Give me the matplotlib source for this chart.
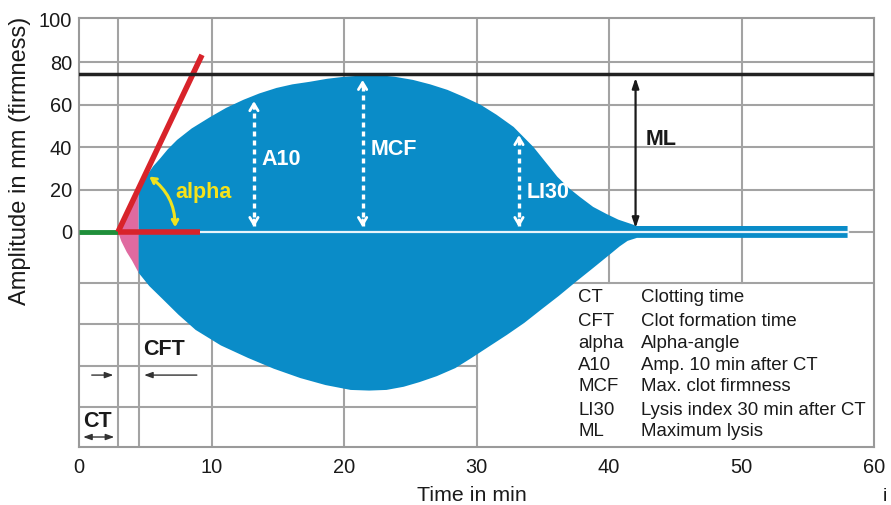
import matplotlib
matplotlib.use("Agg")
import matplotlib.pyplot as plt
import numpy as np

plt.rcParams['font.family'] = ['Liberation Sans', 'DejaVu Sans']

# upper edge of the trace (time in min, amplitude in mm)
t_up = [2.94, 3.3, 3.7, 4.1, 4.5, 5.1, 5.6, 6.1, 6.7, 7.4, 8.5, 9.9, 11.1, 12.4, 13.6,
        14.9, 16.1, 17.4, 18.7, 19.9, 21.2, 22.5, 23.8, 25.2, 26.5, 27.8, 29.0, 30.3,
        31.5, 32.8, 34.3, 35.2, 36.1, 37.0, 37.8, 38.8, 39.8, 40.7, 41.6, 42.1, 58.0]
a_up = [0, 4.5, 9.5, 14.5, 19.5, 26.5, 31, 34.5, 39, 43.4, 48.8, 54.2, 58.5, 62.3, 65.3,
        67.9, 69.6, 70.8, 72.2, 73.1, 73.7, 74.0, 73.2, 71.7, 69.6, 67, 63.8, 60,
        55.3, 49.5, 40, 33, 26, 20.5, 16.5, 11.8, 8.5, 5.8, 3.9, 2.8, 2.8]
# lower edge
t_lo = [2.94, 3.2, 3.6, 4.0, 4.5, 5.3, 6.3, 7.5, 8.8, 10.7, 12.75, 14.7, 16.7, 18.6,
        20.5, 21.9, 23.2, 24.5, 25.7, 27.0, 28.4, 29.6, 30.9, 32.3, 33.6, 34.9, 36.2,
        37.5, 38.8, 40.1, 40.8, 41.4, 42.1, 58.0]
a_lo = [0, -4.5, -9.5, -13.5, -19.3, -25.5, -31.6, -39, -46.2, -53.5, -59.4, -64.5,
        -68.9, -72.2, -74.5, -74.8, -74.5, -73, -70.8, -68, -64.2, -59.5, -54.2, -48.5,
        -42.9, -36.5, -30.2, -23.5, -17, -10.4, -6.8, -4.2, -2.8, -2.8]

CT = 2.94
CFT_end = 4.5
ML_level = 74.5
tangent_end = (9.28, 83.5)
red_base_end = 9.13
trace_end = 58.0

# white measurement arrows: (time, top amplitude, label, label height)
meas = [(13.2, 63.0, 'A10', 34), (21.4, 73.0, 'MCF', 38.7), (33.2, 47.0, 'LI30', 18.4)]
ml_time = 42.0

legend_abbr = ['CT', 'CFT', 'alpha', 'A10', 'MCF', 'LI30', 'ML']
legend_desc = ['Clotting time', 'Clot formation time', 'Alpha-angle', 'Amp. 10 min after CT',
               'Max. clot firmness', 'Lysis index 30 min after CT', 'Maximum lysis']
legend_rows = [-31.1, -42.0, -52.8, -63.2, -73.1, -84.0, -94.3]

xticks = [0, 10, 20, 30, 40, 50, 60]
yticks = [0, 20, 40, 60, 80, 100]

blue = '#0a8cc8'
pink = '#e06aa0'
red = '#d8232a'
grid_c = '#a3a3a3'
ink = '#1a1a1a'

fig = plt.figure(figsize=(8.91, 5.05), dpi=100)
ax = fig.add_axes([0.0887, 0.1149, 0.8923, 0.8495])
ax.set_xlim(0, 60)
ax.set_ylim(-101.4, 100.9)

# grid
for y in [0, 20, 40, 60, 80]:
    ax.plot([0, 60], [y, y], color=grid_c, lw=1.5, zorder=1)
ax.plot([0, 60], [-24, -24], color=grid_c, lw=1.5, zorder=1)
for y in [-43.4, -63.2, -82.5]:
    ax.plot([0, 30], [y, y], color=grid_c, lw=1.5, zorder=1)
for x in [10, 20, 30, CT]:
    ax.plot([x, x], [-101.4, 100.9], color=grid_c, lw=1.5, zorder=1)
for x in [40, 50]:
    ax.plot([x, x], [-24, 100.9], color=grid_c, lw=1.5, zorder=1)
ax.plot([CFT_end, CFT_end], [-101.4, 0], color=grid_c, lw=1.5, zorder=1)

# trace
t_up = np.array(t_up); a_up = np.array(a_up)
t_lo = np.array(t_lo); a_lo = np.array(a_lo)
mu = t_up <= CFT_end
ml = t_lo <= CFT_end
ax.fill(np.r_[t_up[mu], t_lo[ml][::-1]], np.r_[a_up[mu], a_lo[ml][::-1]],
        color=pink, lw=0, zorder=2)
mu = t_up >= CFT_end
ml = t_lo >= CFT_end
ax.fill(np.r_[t_up[mu], t_lo[ml][::-1]], np.r_[a_up[mu], a_lo[ml][::-1]],
        color=blue, lw=0, zorder=2)

ax.plot([red_base_end, trace_end], [0, 0], color='#e8f4fb', lw=1.6, zorder=3)
ax.plot([0, CT], [0, 0], color='#1f8f3a', lw=3.5, zorder=4, solid_capstyle='butt')
ax.plot([CT, red_base_end], [0, 0], color=red, lw=4, zorder=4, solid_capstyle='butt')
ax.plot([CT, tangent_end[0]], [0, tangent_end[1]], color=red, lw=4, zorder=4,
        solid_capstyle='butt')
ax.plot([0, 60], [ML_level, ML_level], color='#222222', lw=2.5, zorder=4)

# alpha arc
ax.annotate('', xy=(7.25, 0.9), xytext=(5.13, 26.9),
            arrowprops=dict(arrowstyle='<->,head_length=0.35,head_width=0.2',
                            connectionstyle='arc3,rad=-0.27', color='#f0e21e', lw=2.2),
            zorder=5)
ax.text(7.3, 18.4, 'alpha', color='#f5e21a', fontsize=15.5, fontweight='bold',
        va='center', ha='left', zorder=5)

# white dashed arrows
for x, top, lab, ly in meas:
    ax.plot([x, x], [3, top - 3], color='white', lw=2.4, ls=(0, (1.5, 1.2)), zorder=5)
    ax.annotate('', xy=(x, top), xytext=(x, top - 6),
                arrowprops=dict(arrowstyle='->,head_length=0.5,head_width=0.3',
                                color='white', lw=2), zorder=5)
    ax.annotate('', xy=(x, 1), xytext=(x, 7),
                arrowprops=dict(arrowstyle='->,head_length=0.5,head_width=0.3',
                                color='white', lw=2), zorder=5)
    ax.text(x + 0.6, ly, lab, color='white', fontsize=15.5, fontweight='bold',
            va='center', ha='left', zorder=5)

# ML arrow
ax.annotate('', xy=(ml_time, 0.5), xytext=(ml_time, ML_level - 0.5),
            arrowprops=dict(arrowstyle='<|-|>,head_length=0.6,head_width=0.2',
                            color=ink, lw=1.6), zorder=5)
ax.text(ml_time + 0.75, 43.4, 'ML', color=ink, fontsize=15.5, fontweight='bold',
        va='center', ha='left', zorder=5)

# CT / CFT markers
ax.text(4.8, -55.2, 'CFT', color=ink, fontsize=15.5, fontweight='bold',
        va='center', ha='left')
ax.annotate('', xy=(2.8, -67.5), xytext=(0.75, -67.5),
            arrowprops=dict(arrowstyle='-|>,head_length=0.5,head_width=0.18',
                            color='#333333', lw=1))
ax.annotate('', xy=(4.7, -67.5), xytext=(9.1, -67.5),
            arrowprops=dict(arrowstyle='-|>,head_length=0.5,head_width=0.18',
                            color='#333333', lw=1))
ax.text(0.3, -89.6, 'CT', color=ink, fontsize=15.5, fontweight='bold',
        va='center', ha='left')
ax.annotate('', xy=(2.87, -96.7), xytext=(0.1, -96.7),
            arrowprops=dict(arrowstyle='<|-|>,head_length=0.5,head_width=0.18',
                            color='#333333', lw=1))

# legend block
for abbr, desc, y in zip(legend_abbr, legend_desc, legend_rows):
    ax.text(37.66, y, abbr, fontsize=13.4, color=ink, va='center', ha='left')
    ax.text(42.4, y, desc, fontsize=13.4, color=ink, va='center', ha='left')

ax.set_xticks(xticks)
ax.set_yticks(yticks)
ax.tick_params(length=0, labelsize=14.4, colors=ink)
ax.tick_params(axis='x', pad=8)
ax.tick_params(axis='y', pad=5)
for s in ax.spines.values():
    s.set_color('#9a9a9a')
    s.set_linewidth(1.5)

ax.set_ylabel('Amplitude in mm (firmness)', fontsize=17, color=ink)
ax.yaxis.set_label_coords(-0.060, 0.667)
ax.set_xlabel('Time in min', fontsize=15.4, color=ink)
ax.xaxis.set_label_coords(0.494, -0.092)
fig.text(0.993, 0.016, 'i', fontsize=14, color=ink, ha='center', va='center')

fig.savefig('out.png', dpi=100)
